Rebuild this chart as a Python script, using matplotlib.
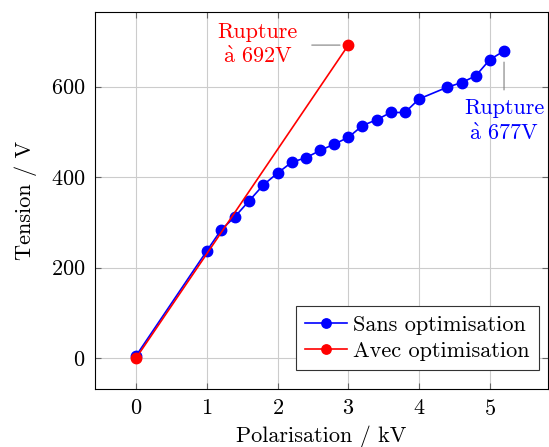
import matplotlib
matplotlib.use('Agg')
import matplotlib.pyplot as plt

# ===== DATA =====
sans_x = [0, 1.0, 1.2, 1.4, 1.6, 1.8, 2.0, 2.2, 2.4, 2.6, 2.8, 3.0, 3.2, 3.4, 3.6, 3.8, 4.0, 4.4, 4.6, 4.8, 5.0, 5.2]
sans_y = [5, 237, 283, 313, 348, 383, 409, 433, 443, 459, 473, 488, 514, 527, 543, 543, 573, 599, 609, 624, 660, 679]
avec_x = [0, 3.0]
avec_y = [0, 692]

plt.rcParams['font.family'] = ['cmr10', 'DejaVu Serif']
plt.rcParams['mathtext.fontset'] = 'cm'
plt.rcParams['axes.formatter.use_mathtext'] = True

FS = 16
fig = plt.figure(figsize=(5.49, 4.47), dpi=100)
ax = fig.add_axes([0.173, 0.130, 0.825, 0.843])

ax.plot(sans_x, sans_y, '-o', color='blue', lw=1.2, ms=7.5, label='Sans optimisation', zorder=3)
ax.plot(avec_x, avec_y, '-o', color='red', lw=1.2, ms=7.5, label='Avec optimisation', zorder=3)

# pins
ax.annotate('Rupture\n' + r'$\mathrm{\grave{a}}$' + ' 692V', xy=(avec_x[-1], avec_y[-1]),
            xytext=(1.72, 692), color='red', fontsize=FS, ha='center', va='center',
            linespacing=1.25,
            arrowprops=dict(arrowstyle='-', color='gray', lw=0.8, shrinkA=8, shrinkB=6))
ax.annotate('Rupture\n' + r'$\mathrm{\grave{a}}$' + ' 677V', xy=(sans_x[-1], sans_y[-1]),
            xytext=(5.2, 524), color='blue', fontsize=FS, ha='center', va='center',
            linespacing=1.3,
            arrowprops=dict(arrowstyle='-', color='gray', lw=0.8, shrinkA=4, shrinkB=8))

ax.set_xlim(-0.58, 5.82)
ax.set_ylim(-68, 765)
ax.set_xticks([0, 1, 2, 3, 4, 5])
ax.set_yticks([0, 200, 400, 600])
ax.grid(True, color='#cccccc', lw=0.8)
ax.set_axisbelow(True)
ax.tick_params(direction='in', top=True, right=True, labelsize=FS, length=4, color='#666666', pad=7)
ax.set_xlabel('Polarisation / kV', fontsize=FS, labelpad=5)
ax.set_ylabel('Tension / V', fontsize=FS, labelpad=10)
for s in ax.spines.values():
    s.set_linewidth(0.8)

leg = ax.legend(loc='lower right', bbox_to_anchor=(0.98, 0.05), fontsize=FS, fancybox=False,
                edgecolor='#333333', framealpha=1, handlelength=1.9, borderaxespad=0,
                handletextpad=0.3, borderpad=0.4, labelspacing=0.3, markerscale=0.9)
leg.get_frame().set_linewidth(0.8)

plt.savefig('out.png', dpi=100)
plt.close()
